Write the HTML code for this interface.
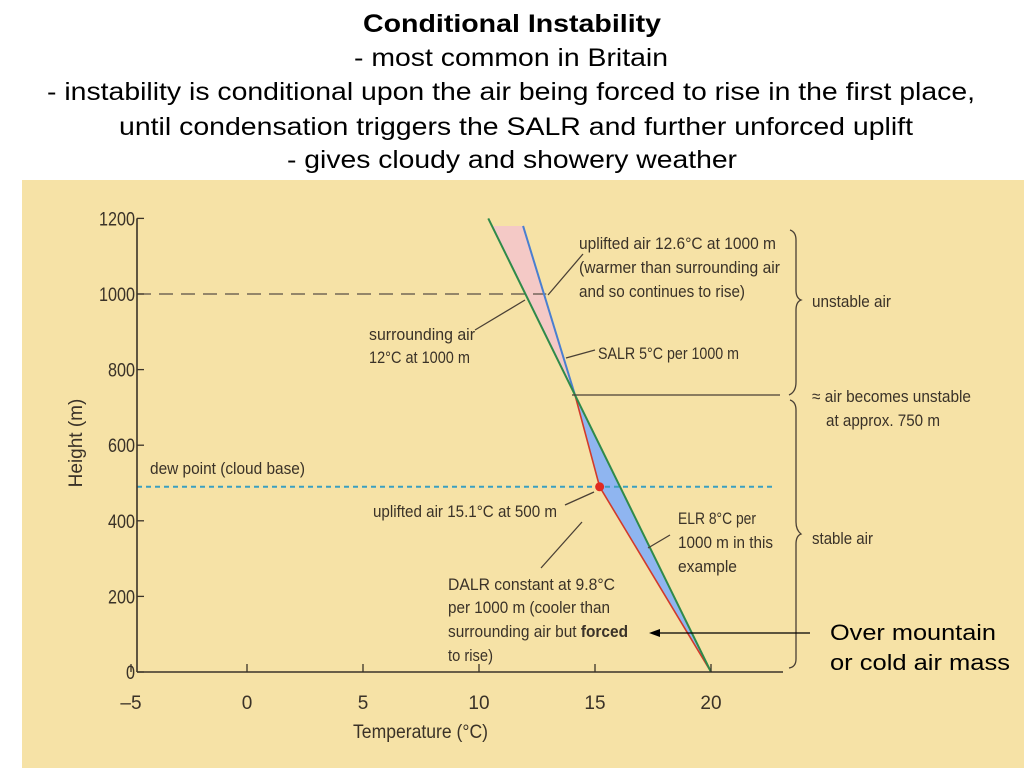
<!DOCTYPE html>
<html><head><meta charset="utf-8"><style>
body{margin:0;background:#fff;}
svg{display:block;}
.t{font-family:"Liberation Sans",sans-serif;font-size:25px;fill:#000;text-anchor:start;}
.c{font-family:"Liberation Sans Narrow","Liberation Sans",sans-serif;font-size:17px;fill:#3a3228;}
.tk{font-family:"Liberation Sans Narrow","Liberation Sans",sans-serif;font-size:19px;fill:#3a3228;}
</style></head><body>
<svg id="chart" width="1024" height="768" viewBox="0 0 1024 768">
<text class="t" x="363" y="32" textLength="298" lengthAdjust="spacingAndGlyphs" font-weight="bold">Conditional Instability</text>
<text class="t" x="354" y="66" textLength="314" lengthAdjust="spacingAndGlyphs">- most common in Britain</text>
<text class="t" x="47" y="100" textLength="928" lengthAdjust="spacingAndGlyphs">- instability is conditional upon the air being forced to rise in the first place,</text>
<text class="t" x="119" y="135" textLength="794" lengthAdjust="spacingAndGlyphs">until condensation triggers the SALR and further unforced uplift</text>
<text class="t" x="287" y="168" textLength="450" lengthAdjust="spacingAndGlyphs">- gives cloudy and showery weather</text>
<rect x="22" y="180" width="1002" height="588" fill="#f6e2a6"/>
<g id="plot"></g>
<g id="ann" stroke="#4a4035" fill="none" stroke-width="1.3">
 <line x1="583" y1="254" x2="548" y2="295"/>
 <line x1="475" y1="330" x2="525" y2="300"/>
 <line x1="595" y1="350" x2="566" y2="358"/>
 <line x1="572" y1="395" x2="780" y2="395"/>
 <line x1="565" y1="505" x2="594" y2="492"/>
 <line x1="582" y1="522" x2="541" y2="568"/>
 <line x1="670" y1="535" x2="648" y2="548"/>
 <path d="M790 230 q6 2 6 10 v50 q0 8 5 10 q-5 2 -5 10 v72 q0 10 -7 13"/>
 <path d="M790 400 q6 2 6 10 v112 q0 8 5 12 q-5 2 -5 10 v115 q0 8 -7 9"/>
</g>
<g class="c">
 <text x="579" y="249" textLength="197" lengthAdjust="spacingAndGlyphs">uplifted air 12.6°C at 1000 m</text>
 <text x="579" y="273" textLength="201" lengthAdjust="spacingAndGlyphs">(warmer than surrounding air</text>
 <text x="579" y="297" textLength="166" lengthAdjust="spacingAndGlyphs">and so continues to rise)</text>
 <text x="369" y="340" textLength="106" lengthAdjust="spacingAndGlyphs">surrounding air</text>
 <text x="369" y="363" textLength="101" lengthAdjust="spacingAndGlyphs">12°C at 1000 m</text>
 <text x="598" y="359" textLength="141" lengthAdjust="spacingAndGlyphs">SALR 5°C per 1000 m</text>
 <text x="812" y="307" textLength="79" lengthAdjust="spacingAndGlyphs">unstable air</text>
 <text x="812" y="402" textLength="159" lengthAdjust="spacingAndGlyphs">≈ air becomes unstable</text>
 <text x="826" y="426" textLength="114" lengthAdjust="spacingAndGlyphs">at approx. 750 m</text>
 <text x="150" y="474" textLength="155" lengthAdjust="spacingAndGlyphs">dew point (cloud base)</text>
 <text x="373" y="517" textLength="184" lengthAdjust="spacingAndGlyphs">uplifted air 15.1°C at 500 m</text>
 <text x="678" y="524" textLength="78" lengthAdjust="spacingAndGlyphs">ELR 8°C per</text>
 <text x="678" y="548" textLength="95" lengthAdjust="spacingAndGlyphs">1000 m in this</text>
 <text x="678" y="572" textLength="59" lengthAdjust="spacingAndGlyphs">example</text>
 <text x="812" y="544" textLength="61" lengthAdjust="spacingAndGlyphs">stable air</text>
 <text x="448" y="590" textLength="167" lengthAdjust="spacingAndGlyphs">DALR constant at 9.8°C</text>
 <text x="448" y="613" textLength="162" lengthAdjust="spacingAndGlyphs">per 1000 m (cooler than</text>
 <text x="448" y="637" textLength="180" lengthAdjust="spacingAndGlyphs">surrounding air but <tspan font-weight="bold">forced</tspan></text>
 <text x="448" y="661" textLength="45" lengthAdjust="spacingAndGlyphs">to rise)</text>
</g>
<line x1="810" y1="633" x2="656" y2="633" stroke="#000" stroke-width="1.3"/>
<polygon points="649,633 660,629 660,637" fill="#000"/>
<text x="830" y="640" font-family="Liberation Sans,sans-serif" font-size="22" textLength="166" lengthAdjust="spacingAndGlyphs">Over mountain</text>
<text x="830" y="670" font-family="Liberation Sans,sans-serif" font-size="22" textLength="180" lengthAdjust="spacingAndGlyphs">or cold air mass</text>
</svg>
<script>
const xTicks=[-5,0,5,10,15,20];
const yTicks=[0,200,400,600,800,1000,1200];
const elrTemps=[20,10.4];
const elrHeights=[0,1200];
const parcelTemps=[20,15.2,14.15,11.9];
const parcelHeights=[0,490,730,1180];
const dewPointHeight=[490];
const refHeight=[1000];
const NS='http://www.w3.org/2000/svg';
const X=t=>247+23.2*t;
const Y=h=>672-0.378*h;
const g=document.getElementById('plot');
function mk(tag,at){const e=document.createElementNS(NS,tag);for(const k in at)e.setAttribute(k,at[k]);g.appendChild(e);return e;}
const elrAt=h=>elrTemps[0]+(elrTemps[1]-elrTemps[0])*(h-elrHeights[0])/(elrHeights[1]-elrHeights[0]);
let pts=[];for(let i=0;i<3;i++)pts.push(X(parcelTemps[i])+','+Y(parcelHeights[i]));
pts.push(X(elrAt(parcelHeights[2]))+','+Y(parcelHeights[2]));
let e=mk('polygon',{points:pts.join(' '),fill:'#8fb5f0'});


let p2=[X(parcelTemps[2])+','+Y(parcelHeights[2]),X(parcelTemps[3])+','+Y(parcelHeights[3]),X(elrAt(parcelHeights[3]))+','+Y(parcelHeights[3])];
e=mk('polygon',{points:p2.join(' '),fill:'#f4c9c6'});


e=mk('line',{x1:X(-5)+6,x2:X(12.9),y1:Y(refHeight[0]),y2:Y(refHeight[0]),stroke:'#5a5045','stroke-width':1.3,'stroke-dasharray':'14,8'});


e=mk('line',{x1:X(-5)+6,x2:X(22.7),y1:Y(dewPointHeight[0]),y2:Y(dewPointHeight[0]),stroke:'#3b9fc0','stroke-width':2,'stroke-dasharray':'5,4'});


e=mk('polyline',{points:[0,1,2].map(i=>X(parcelTemps[i])+','+Y(parcelHeights[i])).join(' '),fill:'none',stroke:'#d23a2a','stroke-width':1.6});


e=mk('line',{x1:X(parcelTemps[2]),y1:Y(parcelHeights[2]),x2:X(parcelTemps[3]),y2:Y(parcelHeights[3]),stroke:'#4a7fd0','stroke-width':2});


e=mk('line',{x1:X(elrTemps[0]),y1:Y(elrHeights[0]),x2:X(elrTemps[1]),y2:Y(elrHeights[1]),stroke:'#2f8a4a','stroke-width':2});


e=mk('circle',{cx:X(parcelTemps[1]),cy:Y(parcelHeights[1]),r:4.5,fill:'#e02a20'});


e=mk('line',{x1:X(-5)+6,y1:Y(1200),x2:X(-5)+6,y2:Y(0),stroke:'#3a3228','stroke-width':1.6});


e=mk('line',{x1:X(-5)+6,y1:Y(0),x2:783,y2:Y(0),stroke:'#3a3228','stroke-width':1.6});


yTicks.forEach(v=>{
 let l=mk('line',{x1:X(-5)+6,x2:X(-5)+13,y1:Y(v),y2:Y(v),stroke:'#3a3228','stroke-width':1.3});
 
 
 let t=mk('text',{x:X(-5)+4,y:Y(v)+7,'text-anchor':'end',class:'tk',textLength:String(v).length*9,lengthAdjust:'spacingAndGlyphs'});t.textContent=v;
 
 
});
xTicks.forEach(v=>{
 let l=mk('line',{x1:X(v),x2:X(v),y1:Y(0),y2:Y(0)-8,stroke:'#3a3228','stroke-width':1.3});
 
 
 let t=mk('text',{x:X(v),y:Y(0)+37,'text-anchor':'middle',class:'tk'});t.textContent=(v<0?'–'+(-v):v);
 
 
});
e=mk('text',{x:353,y:738,class:'tk',textLength:135,lengthAdjust:'spacingAndGlyphs'});e.textContent='Temperature  (°C)';


e=mk('text',{x:0,y:0,'text-anchor':'middle',class:'tk','font-size':20,transform:'translate(82,443) rotate(-90)'});e.textContent='Height (m)';


</script>
</body></html>
